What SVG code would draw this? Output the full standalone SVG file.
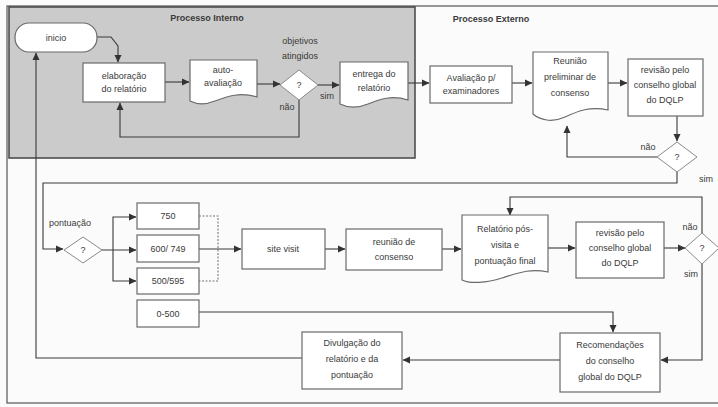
<svg xmlns="http://www.w3.org/2000/svg" width="718" height="407" viewBox="0 0 718 407">
<defs>
<marker id="ah" markerWidth="8" markerHeight="8" refX="7" refY="4" orient="auto" markerUnits="userSpaceOnUse">
<path d="M0,0.5 L7.5,4 L0,7.5 Z" fill="#333"/>
</marker>
<style>
text{font-family:"Liberation Sans",Arial,sans-serif;font-size:9px;fill:#3a3a3a;text-anchor:middle}
.hd{font-weight:bold;font-size:9px}
.box{fill:#fff;stroke:#6a6a6a;stroke-width:1.2}
.dia{fill:#fff;stroke:#8a8a8a;stroke-width:1}
.c{fill:none;stroke:#3a3a3a;stroke-width:1.1}
.a{marker-end:url(#ah)}
.d{stroke-dasharray:2,1.5;stroke:#777}
</style>
</defs>
<rect x="0" y="0" width="718" height="407" fill="#fbfbfb"/>
<rect x="7" y="6" width="725" height="397" fill="none" stroke="#555" stroke-width="1.2"/>
<g id="processo-interno">
<rect x="9" y="7" width="406" height="151" fill="#cbcbcb" stroke="#444" stroke-width="1.5"/>
<text class="hd" x="207" y="21">Processo Interno</text>
</g>
<text class="hd" x="491" y="22">Processo  Externo</text>

<g id="connectors">
<path class="c a" d="M97,37 H111 L118,46 V62"/>
<path class="c a" d="M165,82 H189"/>
<path class="c a" d="M257,84 H280"/>
<path class="c a" d="M318,85 H339"/>
<path class="c a" d="M299,100 V137 H120 V103"/>
<path class="c a" d="M408,83 H429"/>
<path class="c a" d="M512,83 H532"/>
<path class="c a" d="M608,83 H627"/>
<path class="c a" d="M677,116 V141"/>
<path class="c a" d="M657,157 H567 V126"/>
<path class="c a" d="M677,172 V183 H43 V249 H63"/>
<path class="c a" d="M102,250 H136"/>
<path class="c a" d="M113,250 V217 H136"/>
<path class="c a" d="M113,250 V281 H136"/>
<path class="c d" d="M199,216 H218 V281 H199"/>
<path class="c a" d="M199,249 H241"/>
<path class="c a" d="M325,249 H345"/>
<path class="c a" d="M442,249 H461"/>
<path class="c a" d="M548,248 H575"/>
<path class="c a" d="M664,248 H685"/>
<path class="c a" d="M702,233 V197 H510 V215"/>
<path class="c a" d="M702,264 V360 H661"/>
<path class="c a" d="M199,312 H613 V332"/>
<path class="c a" d="M560,360 H403"/>
<path class="c a" d="M302,358 H36 V53"/>
</g>

<g id="inicio">
<rect class="box" x="15" y="23" width="82" height="29" rx="14" ry="14"/>
<text x="56" y="41">inicio</text>
</g>
<g id="elaboracao">
<rect class="box" x="83" y="63" width="82" height="39"/>
<text x="124" y="79">elaboração</text>
<text x="124" y="92">do relatório</text>
</g>
<g id="auto-avaliacao">
<path class="box" d="M190,60 H257 V97 C240,92 228,96 215,101 C205,105 196,104 190,101 Z"/>
<text x="223" y="73">auto-</text>
<text x="223" y="86">avaliação</text>
</g>
<g id="decisao-objetivos">
<text x="300" y="44">objetivos</text>
<text x="300" y="59">atingidos</text>
<path class="dia" d="M299,70 L318,85 L299,100 L280,85 Z"/>
<text x="299" y="88">?</text>
<text x="287" y="110">não</text>
<text x="327" y="99">sim</text>
</g>
<g id="entrega">
<path class="box" d="M340,62 H408 V100 C392,95 380,99 368,104 C356,109 346,107 340,104 Z"/>
<text x="374" y="77">entrega do</text>
<text x="374" y="91">relatório</text>
</g>
<g id="avaliacao-examinadores">
<rect class="box" x="430" y="66" width="82" height="37"/>
<text x="471" y="81">Avaliação p/</text>
<text x="471" y="94">examinadores</text>
</g>
<g id="reuniao-preliminar">
<path class="box" d="M533,52 H608 V110 C590,106 578,111 565,117 C552,123 540,120 533,114 Z"/>
<text x="570" y="64">Reunião</text>
<text x="570" y="80">preliminar de</text>
<text x="570" y="96">consenso</text>
</g>
<g id="revisao-conselho-1">
<rect class="box" x="628" y="59" width="75" height="57"/>
<text x="665" y="73">revisão pelo</text>
<text x="665" y="88">conselho global</text>
<text x="665" y="103">do DQLP</text>
</g>
<g id="decisao-revisao-1">
<path class="dia" d="M677,142 L697,157 L677,172 L657,157 Z"/>
<text x="677" y="160">?</text>
<text x="648" y="150">não</text>
<text x="706" y="182">sim</text>
</g>
<g id="decisao-pontuacao">
<text x="70" y="226">pontuação</text>
<path class="dia" d="M83,237 L102,250 L83,263 L64,250 Z"/>
<text x="83" y="253">?</text>
</g>
<g id="p750">
<rect class="box" x="137" y="203" width="62" height="26"/>
<text x="168" y="219">750</text>
</g>
<g id="p600">
<rect class="box" x="137" y="235" width="62" height="27"/>
<text x="168" y="252">600/ 749</text>
</g>
<g id="p500">
<rect class="box" x="137" y="268" width="62" height="26"/>
<text x="168" y="284">500/595</text>
</g>
<g id="p0">
<rect class="box" x="137" y="300" width="62" height="27"/>
<text x="168" y="317">0-500</text>
</g>
<g id="site-visit">
<rect class="box" x="242" y="229" width="83" height="40"/>
<text x="283" y="252">site visit</text>
</g>
<g id="reuniao-consenso">
<rect class="box" x="346" y="229" width="96" height="41"/>
<text x="394" y="245">reunião de</text>
<text x="394" y="260">consenso</text>
</g>
<g id="relatorio-pos-visita">
<path class="box" d="M462,215 H548 V272 C530,268 518,273 502,278 C486,283 470,284 462,280 Z"/>
<text x="505" y="232">Relatório pós-</text>
<text x="505" y="248">visita e</text>
<text x="505" y="264">pontuação final</text>
</g>
<g id="revisao-conselho-2">
<rect class="box" x="576" y="222" width="88" height="56"/>
<text x="620" y="236">revisão pelo</text>
<text x="620" y="251">conselho global</text>
<text x="620" y="266">do DQLP</text>
</g>
<g id="decisao-revisao-2">
<path class="dia" d="M702,233 L719,248 L702,264 L685,248 Z"/>
<text x="702" y="251">?</text>
<text x="690" y="230">não</text>
<text x="691" y="277">sim</text>
</g>
<g id="recomendacoes">
<rect class="box" x="560" y="333" width="100" height="59"/>
<text x="610" y="348">Recomendações</text>
<text x="610" y="364">do conselho</text>
<text x="610" y="380">global do DQLP</text>
</g>
<g id="divulgacao">
<rect class="box" x="302" y="332" width="100" height="57"/>
<text x="352" y="346">Divulgação do</text>
<text x="352" y="362">relatório e da</text>
<text x="352" y="378">pontuação</text>
</g>
</svg>
